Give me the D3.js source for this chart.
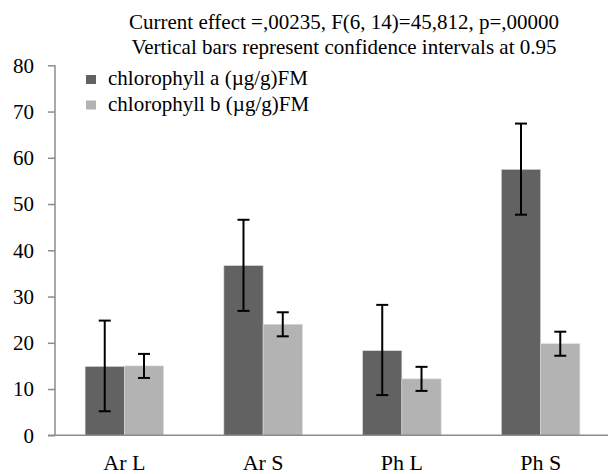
<!DOCTYPE html>
<html>
<head>
<meta charset="utf-8">
<script src="https://cdn.jsdelivr.net/npm/d3@7"></script>
<style>
body { margin: 0; background: #fff; }
svg text { font-family: "Liberation Serif", "Times New Roman", serif; }
</style>
</head>
<body>
<script>
var groups = ["Ar L", "Ar S", "Ph L", "Ph S"];
var seriesNames = ["chlorophyll a (\u00b5g/g)FM", "chlorophyll b (\u00b5g/g)FM"];
var colors = ["#626262", "#b3b3b3"];

// means and 0.95 confidence limits
var chlA = [14.9, 36.7, 18.3, 57.5];
var chlALow = [5.2, 26.9, 8.7, 47.7];
var chlAHigh = [24.8, 46.6, 28.2, 67.4];
var chlB = [15.0, 24.0, 12.2, 19.8];
var chlBLow = [12.4, 21.4, 9.6, 17.2];
var chlBHigh = [17.6, 26.6, 14.8, 22.4];

var yTicks = [0, 10, 20, 30, 40, 50, 60, 70, 80];
var titleLines = ["Current effect =,00235, F(6, 14)=45,812, p=,00000",
  "Vertical bars represent confidence intervals at 0.95"];

var w = 608, h = 474;

var svg = d3.select("body").append("svg")
  .attr("width", w)
  .attr("height", h);

var x = d3.scaleBand()
  .domain(groups)
  .range([55, 610])
  .paddingInner(0.434)
  .paddingOuter(0.217);

var x1 = d3.scaleBand()
  .domain([0, 1])
  .range([0, x.bandwidth()]);

var y = d3.scaleLinear()
  .domain([0, 80])
  .range([435.3, 65.3]);

var data = groups.map(function(g, i) {
  return { group: g, vals: [
    { s: 0, v: chlA[i], lo: chlALow[i], hi: chlAHigh[i] },
    { s: 1, v: chlB[i], lo: chlBLow[i], hi: chlBHigh[i] }
  ]};
});

// y axis
var yAxis = svg.append("g")
  .attr("transform", "translate(55,0)")
  .call(d3.axisLeft(y).tickValues(yTicks).tickSize(7).tickPadding(14))
  .attr("font-size", 21);
yAxis.selectAll("path, line").attr("stroke", "#8c8c8c").attr("stroke-width", 1.5);
yAxis.select(".domain").attr("d", "M0," + y(80) + "V" + y(0));
yAxis.selectAll("text").attr("fill", "#000");

// bars
var g = svg.selectAll(".grp")
  .data(data)
  .enter()
  .append("g")
  .attr("class", "grp")
  .attr("transform", function(d) { return "translate(" + x(d.group) + ",0)"; });

g.selectAll("rect")
  .data(function(d) { return d.vals; })
  .enter()
  .append("rect")
  .attr("x", function(d) { return x1(d.s); })
  .attr("y", function(d) { return y(d.v); })
  .attr("width", x1.bandwidth())
  .attr("height", function(d) { return y(0) - y(d.v); })
  .attr("fill", function(d) { return colors[d.s]; })
  .attr("stroke", "#dcdcdc")
  .attr("stroke-width", 0.6);

// error bars
var cap = 6;
var eb = g.selectAll(".eb")
  .data(function(d) { return d.vals; })
  .enter()
  .append("g")
  .attr("class", "eb")
  .attr("stroke", "#000")
  .attr("stroke-width", 2);
eb.append("line")
  .attr("x1", function(d) { return x1(d.s) + x1.bandwidth() / 2; })
  .attr("x2", function(d) { return x1(d.s) + x1.bandwidth() / 2; })
  .attr("y1", function(d) { return y(d.lo); })
  .attr("y2", function(d) { return y(d.hi); });
eb.append("line")
  .attr("x1", function(d) { return x1(d.s) + x1.bandwidth() / 2 - cap; })
  .attr("x2", function(d) { return x1(d.s) + x1.bandwidth() / 2 + cap; })
  .attr("y1", function(d) { return y(d.hi); })
  .attr("y2", function(d) { return y(d.hi); });
eb.append("line")
  .attr("x1", function(d) { return x1(d.s) + x1.bandwidth() / 2 - cap; })
  .attr("x2", function(d) { return x1(d.s) + x1.bandwidth() / 2 + cap; })
  .attr("y1", function(d) { return y(d.lo); })
  .attr("y2", function(d) { return y(d.lo); });

// x axis
var xAxis = svg.append("g")
  .attr("transform", "translate(0," + y(0) + ")")
  .call(d3.axisBottom(x).tickSize(0).tickPadding(19))
  .attr("font-size", 22);
xAxis.select(".domain").attr("d", "M48,0H608").attr("stroke", "#8c8c8c").attr("stroke-width", 1.5);
xAxis.selectAll("text").attr("fill", "#000");

// title
svg.selectAll(".title")
  .data(titleLines)
  .enter()
  .append("text")
  .attr("class", "title")
  .attr("x", 344)
  .attr("y", function(d, i) { return 29 + i * 25; })
  .attr("text-anchor", "middle")
  .attr("font-size", 21)
  .text(function(d) { return d; });

// legend
var leg = svg.selectAll(".leg")
  .data(seriesNames)
  .enter()
  .append("g")
  .attr("class", "leg")
  .attr("transform", function(d, i) { return "translate(86," + (85 + i * 25.5) + ")"; });
leg.append("rect")
  .attr("x", 0)
  .attr("y", -10)
  .attr("width", 10)
  .attr("height", 9)
  .attr("fill", function(d, i) { return colors[i]; });
leg.append("text")
  .attr("x", 22)
  .attr("y", 0)
  .attr("font-size", 21)
  .text(function(d) { return d; });
</script>
</body>
</html>
